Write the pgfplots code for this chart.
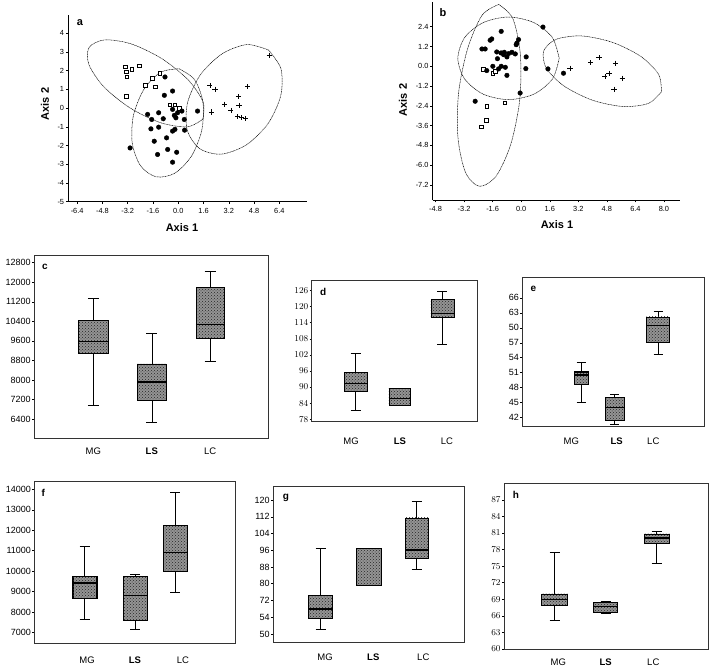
\documentclass[border=0pt]{standalone}
\usepackage{fontspec}
\setmainfont{Liberation Sans}
\usepackage{pgfplots}
\pgfplotsset{compat=1.18}
\usepgfplotslibrary{statistics}
\usetikzlibrary{patterns}

\pgfplotsset{
  scat/.style={scale only axis, axis x line*=bottom, axis y line*=left,
    tick align=outside, major tick length=2.5pt,
    tick style={black, line width=0.5pt}, axis line style={line width=0.7pt, black},
    ticklabel style={font=\fontsize{7.4}{8}\selectfont, inner sep=1.5pt},
    xticklabel style={yshift=-2.5pt}, clip=false},
  bp/.style={scale only axis, tick align=outside, major tick length=2pt,
    ytick pos=left, xtick style={draw=none}, tick style={black, line width=0.5pt},
    axis line style={line width=0.8pt, black!80},
    yticklabel style={font=\fontsize{9}{10}\selectfont, inner sep=1.2pt},
    xticklabel style={font=\fontsize{9.5}{10}\selectfont, anchor=center},
    scaled y ticks=false, clip=false, boxplot/draw direction=y},
  bx/.style={draw=black,
    boxplot/every box/.style={preaction={fill=black!42}, pattern=crosshatch dots, pattern color=black!85, line width=0.5pt},
    boxplot/every whisker/.style={line width=0.5pt},
    boxplot/every median/.style={line width=1.5pt, black}},
  ell/.style={black, line width=0.5pt, dash pattern=on 1pt off 0.6pt, smooth, mark=none},
  fc/.style={only marks, mark=*, mark size=2.3pt, black},
  sq/.style={only marks, mark=square*, mark size=1.8pt, black, mark options={fill=white, line width=0.6pt}},
  cr/.style={only marks, mark=+, mark size=2.6pt, black, line width=0.7pt},
}

\begin{document}
\begin{tikzpicture}[x=1pt,y=1pt]
\useasboundingbox (0,0) rectangle (709,669);

% ---------------- panel a ----------------
\begin{axis}[scat, at={(68.3pt,467.3pt)}, anchor=south west,
  width=238.4pt, height=186.7pt,
  xmin=-6.96, xmax=8.13, ymin=-5, ymax=4.97,
  xtick={-6.4,-4.8,-3.2,-1.6,0,1.6,3.2,4.8,6.4},
  xticklabels={-6.4,-4.8,-3.2,-1.6,0.0,1.6,3.2,4.8,6.4},
  ytick={-5,-4,-3,-2,-1,0,1,2,3,4},
  yticklabels={-5,-4,-3,-2,-1,0,1,2,3,4}]
\addplot[ell] coordinates {(1.56,-0.59) (0.59,-1.0) (-1.09,-0.79) (-3.02,-0.01) (-4.69,1.12) (-5.65,2.31) (-5.65,3.23) (-4.67,3.64) (-2.99,3.43) (-1.06,2.65) (0.61,1.52) (1.57,0.33) (1.56,-0.59)};
\addplot[ell] coordinates {(0.05,2.10) (1.03,1.52) (1.56,0.32) (1.49,-1.18) (0.84,-2.56) (-0.22,-3.48) (-1.40,-3.67) (-2.38,-3.09) (-2.91,-1.89) (-2.84,-0.40) (-2.18,0.99) (-1.13,1.91) (0.05,2.10)};
\addplot[ell] coordinates {(5.71,3.10) (6.50,2.10) (6.49,0.67) (5.69,-0.82) (4.32,-1.96) (2.73,-2.46) (1.36,-2.17) (0.57,-1.18) (0.58,0.26) (1.38,1.75) (2.76,2.89) (4.34,3.39) (5.71,3.10)};
\addplot[sq] coordinates {(-3.35,2.2) (-3.3,1.93) (-3.26,1.68) (-2.93,2.07) (-2.46,2.25) (-3.3,0.64) (-2.1,1.2) (-1.66,1.59) (-1.45,1.14) (-1.18,1.86) (-0.53,0.18) (-0.21,0.18) (0.06,0.0)};
\addplot[fc] coordinates {(-0.84,1.66) (-0.36,0.91) (-0.88,0.68) (-1.94,-0.34) (-1.68,-0.61) (-1.24,-0.25) (-0.95,-0.57) (-0.36,-0.07) (-0.25,-0.39) (-0.15,-0.52) (-0.04,-0.25) (0.23,-0.16) (0.38,-0.61) (0.4,-1.18) (-0.36,-1.23) (-0.21,-1.14) (-1.73,-1.11) (-1.24,-1.02) (-0.74,-1.59) (-1.52,-1.77) (-1.31,-2.48) (-0.67,-2.21) (-0.1,-2.36) (-0.36,-2.89) (-3.05,-2.13) (1.22,-0.16)};
\addplot[cr] coordinates {(2.0,1.21) (2.32,1.0) (4.38,1.14) (3.81,0.61) (2.93,0.2) (3.33,-0.13) (3.85,0.14) (2.1,-0.21) (3.75,-0.46) (4.02,-0.52) (4.27,-0.57) (5.75,2.82)};
\end{axis}
\node[font=\bfseries\fontsize{11}{12}\selectfont] at (80,646) {a};
\node[font=\bfseries\fontsize{11}{12}\selectfont] at (182,441) {Axis 1};
\node[font=\bfseries\fontsize{11}{12}\selectfont, rotate=90] at (45,565) {Axis 2};

% ---------------- panel b ----------------
\begin{axis}[scat, at={(432.7pt,469pt)}, anchor=south west,
  width=247.3pt, height=198pt,
  xmin=-4.96, xmax=8.9, ymin=-8.11, ymax=3.9,
  xtick={-4.8,-3.2,-1.6,0,1.6,3.2,4.8,6.4,8.0},
  xticklabels={-4.8,-3.2,-1.6,0.0,1.6,3.2,4.8,6.4,8.0},
  ytick={-7.2,-6,-4.8,-3.6,-2.4,-1.2,0,1.2,2.4},
  yticklabels={-7.2,-6.0,-4.8,-3.6,-2.4,-1.2,0.0,1.2,2.4}]
\addplot[ell] coordinates {(2.13,0.48) (1.75,1.74) (0.71,2.65) (-0.71,2.99) (-2.13,2.65) (-3.17,1.74) (-3.55,0.48) (-3.17,-0.77) (-2.13,-1.69) (-0.71,-2.02) (0.71,-1.69) (1.75,-0.77) (2.13,0.48)};
\addplot[ell] coordinates {(-1.26,3.75) (-0.47,2.9) (-0.05,0.75) (-0.08,-2.01) (-0.58,-4.72) (-1.40,-6.65) (-2.33,-7.28) (-3.11,-6.46) (-3.54,-4.38) (-3.51,-1.62) (-3.00,1.08) (-2.19,3.1) (-1.26,3.75)};
\addplot[ell] coordinates {(7.86,-1.54) (7.13,-2.25) (5.72,-2.44) (4.00,-2.06) (2.42,-1.21) (1.41,-0.12) (1.26,0.93) (1.97,1.64) (3.39,1.84) (5.12,1.45) (6.70,0.60) (7.70,-0.49) (7.86,-1.54)};
\addplot[sq] coordinates {(-2.11,-0.2) (-1.59,-0.44) (-1.44,-0.3) (-0.91,-2.22) (-1.93,-2.42) (-1.96,-3.27) (-2.24,-3.68)};
\addplot[fc] coordinates {(-1.12,2.12) (1.22,2.38) (-1.74,1.58) (-1.65,1.66) (-2.20,1.05) (-2.02,1.05) (-0.24,1.41) (-0.15,1.62) (-0.28,1.31) (-1.37,0.87) (-1.13,0.81) (-0.95,0.85) (-0.71,0.77) (-0.52,0.85) (-0.33,0.75) (-1.33,0.46) (-0.80,0.57) (0.28,0.57) (-1.93,-0.26) (-1.59,0.0) (-1.12,0.0) (-0.89,-0.06) (-1.27,-0.16) (-0.80,-0.55) (0.26,-0.14) (1.50,-0.16) (2.37,-0.42) (-0.06,-1.62) (-2.58,-2.12) (-0.99,0.71)};
\addplot[cr] coordinates {(2.73,-0.12) (3.89,0.22) (4.36,0.52) (5.29,0.18) (5.66,-0.73) (4.92,-0.42) (4.69,-0.63) (5.20,-1.39)};
\end{axis}
\node[font=\bfseries\fontsize{11}{12}\selectfont] at (443,656) {b};
\node[font=\bfseries\fontsize{11}{12}\selectfont] at (557,444) {Axis 1};
\node[font=\bfseries\fontsize{11}{12}\selectfont, rotate=90] at (403,569) {Axis 2};

% ---------------- panel c ----------------
\begin{axis}[bp, at={(34pt,231pt)}, anchor=south west,
  width=234.3pt, height=183pt,
  xmin=0, xmax=234.3, ymin=5622, ymax=13115,
  xtick={59.3,117.8,176.2}, xticklabels={MG,\textbf{LS},LC},
  xticklabel style={yshift=-11pt},
  ytick={6400,7200,8000,8800,9600,10400,11200,12000,12800},
  yticklabels={6400,7200,8000,8800,9600,10400,11200,12000,12800}]
\addplot[bx, boxplot prepared={draw position=59.3, box extend=30, whisker extend=11,
  lower whisker=6950, lower quartile=9100, median=9575, upper quartile=10440, upper whisker=11364}] coordinates {};
\addplot[bx, boxplot prepared={draw position=117.8, box extend=28.5, whisker extend=11,
  lower whisker=6263, lower quartile=7160, median=7905, upper quartile=8660, upper whisker=9914}] coordinates {};
\addplot[bx, boxplot prepared={draw position=176.2, box extend=28.5, whisker extend=11,
  lower whisker=8745, lower quartile=9723, median=10263, upper quartile=11800, upper whisker=12459}] coordinates {};
\end{axis}
\node[font=\bfseries\fontsize{10}{11}\selectfont] at (45,402.3) {c};

% ---------------- panel d ----------------
\begin{axis}[bp, at={(311.7pt,247.3pt)}, anchor=south west,
  width=165.3pt, height=141.7pt,
  xmin=0, xmax=165.3, ymin=77.1, ymax=129.9,
  xtick={39.3,88.3,135.3}, xticklabels={MG,\textbf{LS},LC},
  xticklabel style={yshift=-18pt},
  ytick={78,84,90,96,102,108,114,120,126}]
\addplot[bx, boxplot prepared={draw position=44, box extend=23.3, whisker extend=10,
  lower whisker=81.2, lower quartile=88.3, median=91.4, upper quartile=95.4, upper whisker=102.6}] coordinates {};
\addplot[bx, boxplot prepared={draw position=88, box extend=21.7, whisker extend=10,
  lower whisker=83.3, lower quartile=83.3, median=85.7, upper quartile=89.4, upper whisker=89.4}] coordinates {};
\addplot[bx, boxplot prepared={draw position=130.7, box extend=23.3, whisker extend=10,
  lower whisker=106, lower quartile=116, median=117.5, upper quartile=122.8, upper whisker=125.6}] coordinates {};
\end{axis}
\node[font=\bfseries\fontsize{10}{11}\selectfont] at (323.3,377.3) {d};

% ---------------- panel e ----------------
\begin{axis}[bp, at={(522.3pt,242.3pt)}, anchor=south west,
  width=181.7pt, height=149.4pt,
  xmin=0, xmax=181.7, ymin=40.2, ymax=70.1,
  xtick={49,94.4,131}, xticklabels={MG,\textbf{LS},LC},
  xticklabel style={yshift=-13pt},
  ytick={42,45,48,51,54,57,60,63,66},
  yticklabels={42,45,48,51,54,57,50,63,66}]
\addplot[bx, boxplot prepared={draw position=58.9, box extend=14.3, whisker extend=9,
  lower whisker=45.1, lower quartile=48.7, median=50.5, upper quartile=51.2, upper whisker=53.1}] coordinates {};
\addplot[bx, boxplot prepared={draw position=92.4, box extend=19.3, whisker extend=9,
  lower whisker=40.7, lower quartile=41.5, median=44, upper quartile=46.1, upper whisker=46.7}] coordinates {};
\addplot[bx, boxplot prepared={draw position=135.7, box extend=22.7, whisker extend=9,
  lower whisker=54.6, lower quartile=57.1, median=60.5, upper quartile=62.2, upper whisker=63.4}] coordinates {};
\end{axis}
\node[font=\bfseries\fontsize{10}{11}\selectfont] at (533.3,379.7) {e};

% ---------------- panel f ----------------
\begin{axis}[bp, at={(34.3pt,25.7pt)}, anchor=south west,
  width=200.7pt, height=161.6pt,
  xmin=0, xmax=200.7, ymin=6482, ymax=14371,
  xtick={52.7,100.7,148.7}, xticklabels={MG,\textbf{LS},LC},
  xticklabel style={yshift=-15pt},
  ytick={7000,8000,9000,10000,11000,12000,13000,14000},
  yticklabels={7000,8000,9000,10000,11000,12000,13000,14000}]
\addplot[bx, boxplot prepared={draw position=50.4, box extend=24, whisker extend=10,
  lower whisker=7669, lower quartile=8690, median=9424, upper quartile=9750, upper whisker=11212}] coordinates {};
\addplot[bx, boxplot prepared={draw position=101, box extend=24, whisker extend=10,
  lower whisker=7163, lower quartile=7630, median=8804, upper quartile=9750, upper whisker=9848}] coordinates {};
\addplot[bx, boxplot prepared={draw position=141, box extend=24, whisker extend=10,
  lower whisker=8967, lower quartile=10000, median=10918, upper quartile=12245, upper whisker=13832}] coordinates {};
\end{axis}
\node[font=\bfseries\fontsize{10}{11}\selectfont] at (43.3,175.7) {f};

% ---------------- panel g ----------------
\begin{axis}[bp, at={(273pt,26.3pt)}, anchor=south west,
  width=191pt, height=156pt,
  xmin=0, xmax=191, ymin=51.8, ymax=126.4,
  xtick={52,100.3,150.3}, xticklabels={MG,\textbf{LS},LC},
  xticklabel style={yshift=-13pt},
  ytick={56,64,72,80,88,96,104,112,120},
  yticklabels={50,54,72,80,88,96,104,112,120}]
\addplot[bx, boxplot prepared={draw position=47.5, box extend=24.3, whisker extend=10,
  lower whisker=58.4, lower quartile=63.3, median=68, upper quartile=74.4, upper whisker=97}] coordinates {};
\addplot[bx, boxplot/every median/.style={draw=none}, boxplot prepared={draw position=95.8, box extend=24.3, whisker extend=0.01,
  lower whisker=79.4, lower quartile=79.4, median=88, upper quartile=96.9, upper whisker=96.9}] coordinates {};
\addplot[bx, boxplot prepared={draw position=143.7, box extend=23.3, whisker extend=10,
  lower whisker=87, lower quartile=92.1, median=96.1, upper quartile=111.5, upper whisker=119.5}] coordinates {};
\end{axis}
\node[font=\bfseries\fontsize{10}{11}\selectfont] at (286,170.7) {g};

% ---------------- panel h ----------------
\begin{axis}[bp, at={(504pt,19.7pt)}, anchor=south west,
  width=204pt, height=166pt,
  xmin=0, xmax=204, ymin=59.95, ymax=90,
  xtick={54.3,101.7,149.3}, xticklabels={MG,\textbf{LS},LC},
  xticklabel style={yshift=-11pt},
  ytick={60,63,66,69,72,75,78,81,84,87}]
\addplot[bx, boxplot prepared={draw position=50.5, box extend=25.7, whisker extend=10,
  lower whisker=65.26, lower quartile=67.86, median=69.0, upper quartile=69.97, upper whisker=77.46}] coordinates {};
\addplot[bx, boxplot prepared={draw position=101.5, box extend=24.3, whisker extend=10,
  lower whisker=66.47, lower quartile=66.6, median=67.68, upper quartile=68.46, upper whisker=68.7}] coordinates {};
\addplot[bx, boxplot prepared={draw position=152.7, box extend=25.3, whisker extend=10,
  lower whisker=75.53, lower quartile=79.15, median=80.06, upper quartile=80.84, upper whisker=81.26}] coordinates {};
\end{axis}
\node[font=\bfseries\fontsize{10}{11}\selectfont] at (516,174) {h};
\end{tikzpicture}
\end{document}
